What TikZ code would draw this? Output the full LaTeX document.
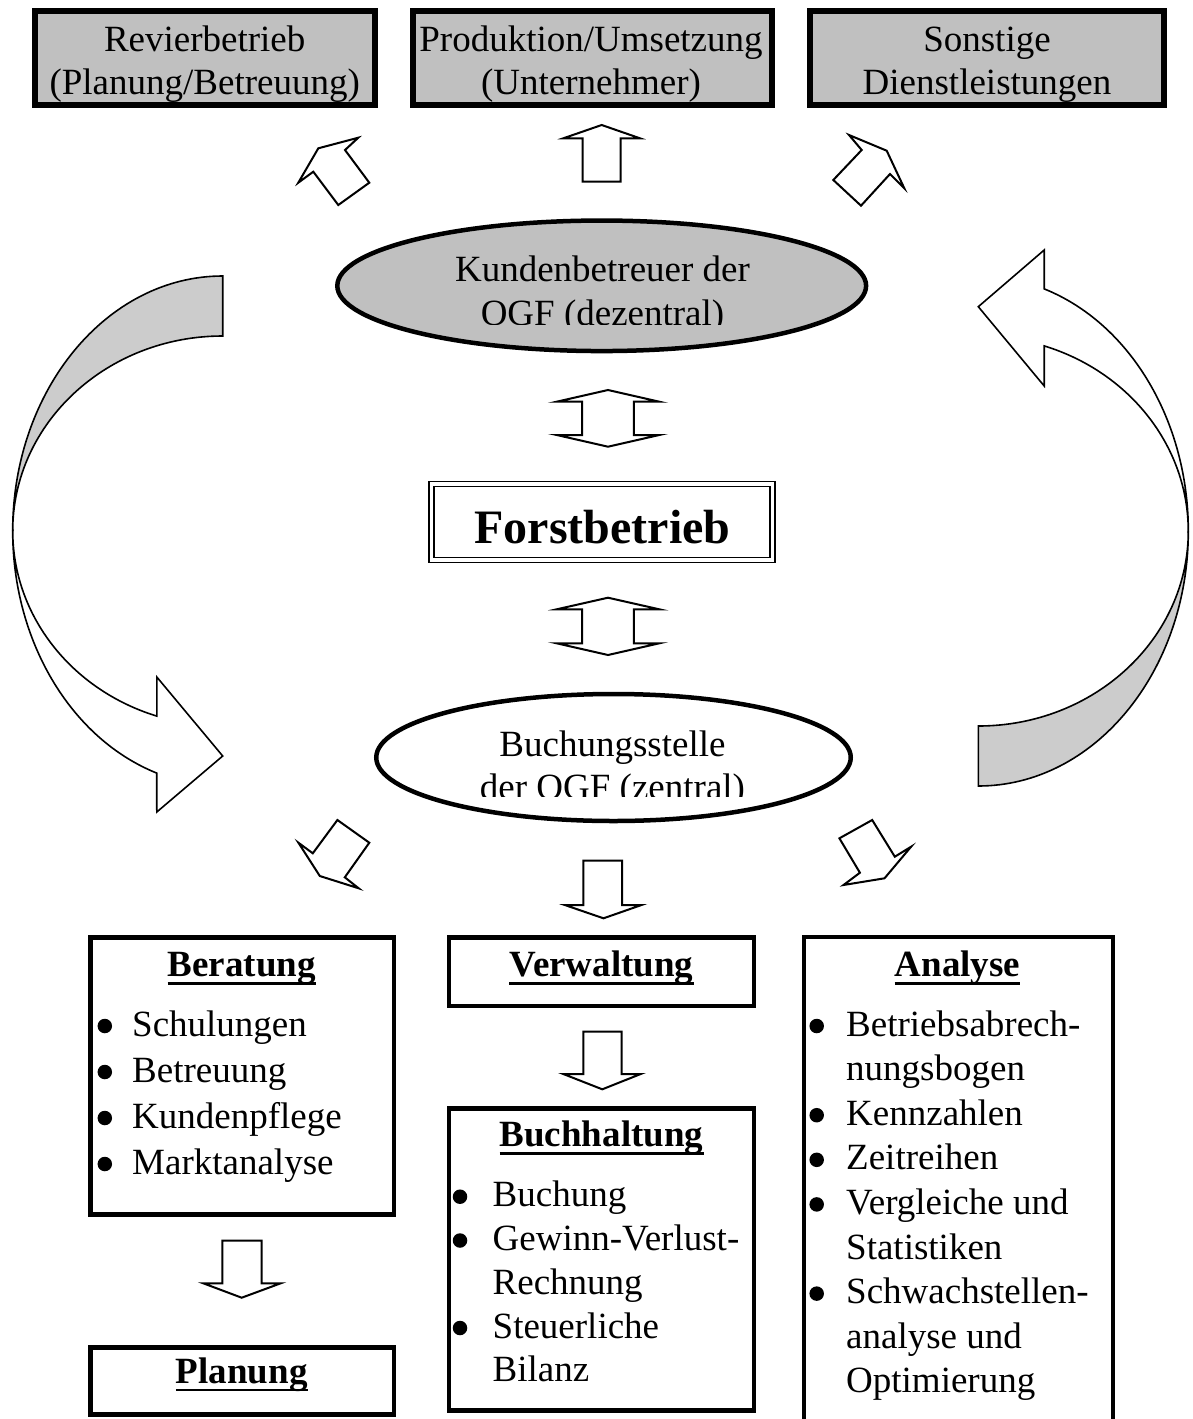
\documentclass[tikz,border=0pt]{standalone}
\usepackage{fontspec}
\setmainfont{Liberation Serif}
\usetikzlibrary{shapes.geometric}
\definecolor{boxgray}{HTML}{C0C0C0}
\definecolor{arrgray}{HTML}{CCCCCC}
\begin{document}
\begin{tikzpicture}[x=1pt,y=-1pt,
  topbox/.style={draw, line width=6pt, fill=boxgray, inner sep=0pt},
  lowbox/.style={draw, line width=4.5pt, fill=white, inner sep=0pt},
  txt/.style={inner sep=0pt, anchor=base, font=\fontsize{37}{43}\selectfont},
  btxt/.style={inner sep=0pt, anchor=base, font=\fontsize{37}{43}\selectfont\bfseries},
  ltxt/.style={inner sep=0pt, anchor=base west, font=\fontsize{37}{43}\selectfont},
  bul/.style={circle, fill=black, inner sep=0pt, minimum size=14.5pt},
  blockarrow/.style={draw, line width=2pt, fill=white, line join=miter},
  curvedarrow/.style={draw, line width=1.6pt, line join=miter},
  uline/.style={line width=2.5pt}]
\useasboundingbox (0,0) rectangle (1192,1419);
\fill[white] (0,0) rectangle (1192,1419);

% ---------- top boxes ----------
\node[topbox, minimum width=340pt, minimum height=94pt] (rev) at (204.7,58.3) {};
\node[txt] (revA) at (204.7,51.5) {Revierbetrieb};
\node[txt] (revB) at (204.7,94) {(Planung/Betreuung)};

\node[topbox, minimum width=359pt, minimum height=94pt] (prod) at (592.5,58.3) {};
\node[txt] (prodA) at (591,51.5) {Produktion/Umsetzung};
\node[txt] (prodB) at (591,94) {(Unternehmer)};

\node[topbox, minimum width=353.4pt, minimum height=94pt] (sons) at (987,58.3) {};
\node[txt] (sonsA) at (987,51.5) {Sonstige};
\node[txt] (sonsB) at (987,94) {Dienstleistungen};

% ---------- top block arrows ----------
\draw[blockarrow] (338.3,205) -- (313.3,171.7) -- (298.3,182.7) -- (318.3,148.3)
  -- (358.3,137.7) -- (345,150) -- (369.3,182.7) -- cycle;
\draw[blockarrow] (582.7,181.7) -- (582.7,138.3) -- (563.3,138.3) -- (601.7,125)
  -- (640,138.3) -- (620.5,138.3) -- (620.5,181.7) -- cycle;
\draw[blockarrow] (849,135) -- (886.7,150.7) -- (904.3,188.3) -- (890,174)
  -- (861,205.7) -- (833.3,180) -- (861.7,150) -- cycle;

% ---------- Kundenbetreuer ellipse ----------
\node[ellipse, draw, line width=4.5pt, fill=boxgray, inner sep=0pt,
      minimum width=528.8pt, minimum height=130.5pt] (kund) at (601.7,285.8) {};
\begin{scope}
  \clip (320,220) rectangle (880,324.5);
  \node[txt] (kundA) at (602.5,281.7) {Kundenbetreuer der};
  \node[txt] (kundB) at (602.5,325.5) {OGF (dezentral)};
\end{scope}

% ---------- double arrows ----------
\draw[blockarrow] (608,390) -- (659.3,401.7) -- (633.8,401.7) -- (633.8,435) -- (659.3,435)
  -- (608,446.7) -- (556.7,435) -- (582.2,435) -- (582.2,401.7) -- (556.7,401.7) -- cycle;
\draw[blockarrow] (608,597.7) -- (659.3,609.3) -- (633.8,609.3) -- (633.8,643.3) -- (659.3,643.3)
  -- (608,655) -- (556.7,643.3) -- (582.2,643.3) -- (582.2,609.3) -- (556.7,609.3) -- cycle;

% ---------- Forstbetrieb ----------
\node[draw, line width=1.7pt, double=white, double distance=3.3pt, inner sep=0pt,
      minimum width=341pt, minimum height=75.9pt] (forst) at (602.2,522) {};
\node[inner sep=0pt, anchor=base, font=\fontsize{48}{56}\selectfont\bfseries]
      (forstT) at (602.5,543.3) {Forstbetrieb};

% ---------- curved arrows ----------
\draw[curvedarrow, fill=arrgray] (222.7,276)
  arc[start angle=-90, end angle=-180, x radius=210, y radius=255]
  arc[start angle=180, end angle=270, x radius=210, y radius=195] -- cycle;
\draw[curvedarrow, fill=white] (12.7,531)
  arc[start angle=180, end angle=108.3, x radius=210, y radius=255]
  -- (156.8,812) -- (222.7,756) -- (156.8,677) -- (156.8,716.1)
  arc[start angle=108.3, end angle=180, x radius=210, y radius=195] -- cycle;

\draw[curvedarrow, fill=arrgray] (978.3,786)
  arc[start angle=90, end angle=0, x radius=210, y radius=255]
  arc[start angle=0, end angle=90, x radius=210, y radius=195] -- cycle;
\draw[curvedarrow, fill=white] (1188.3,531)
  arc[start angle=0, end angle=-71.7, x radius=210, y radius=255]
  -- (1044.2,250) -- (978.3,306.7) -- (1044.2,386) -- (1044.2,345.9)
  arc[start angle=-71.7, end angle=0, x radius=210, y radius=195] -- cycle;

% ---------- Buchungsstelle ellipse ----------
\node[ellipse, draw, line width=4.5pt, fill=white, inner sep=0pt,
      minimum width=474.5pt, minimum height=127pt] (buch) at (613.5,757.5) {};
\begin{scope}
  \clip (360,690) rectangle (860,796.5);
  \node[txt] (buchA) at (612.5,756) {Buchungsstelle};
  \node[txt] (buchB) at (612.5,799) {der OGF (zentral)};
\end{scope}

% ---------- lower block arrows ----------
\draw[blockarrow] (337.4,820) -- (369.3,842.7) -- (344.8,877.3) -- (358.7,888.3)
  -- (319.8,876) -- (298.4,842.7) -- (312.8,853.3) -- cycle;
\draw[blockarrow] (583.3,860.7) -- (583.3,905) -- (564.8,905) -- (603.5,918.3)
  -- (641.5,905) -- (622.2,905) -- (622.2,860.7) -- cycle;
\draw[blockarrow] (872.2,820) -- (894.8,856.7) -- (911.1,846.7) -- (884.5,878.3)
  -- (843.5,885) -- (859.9,872.7) -- (839.4,838.3) -- cycle;

% ---------- Beratung ----------
\node[lowbox, minimum width=303.2pt, minimum height=277.2pt] (ber) at (242.15,1075.85) {};
\node[btxt] (berH) at (241.8,976.7) {Beratung};
\draw[uline] ([yshift=-6.6pt]berH.base west) -- ([yshift=-6.6pt]berH.base east);
\node[bul] (berB1) at (104.8,1026) {};
\node[ltxt] (berT1) at (132,1036) {Schulungen};
\node[bul] (berB2) at (104.8,1072) {};
\node[ltxt] (berT2) at (132,1082) {Betreuung};
\node[bul] (berB3) at (104.8,1118) {};
\node[ltxt] (berT3) at (132,1128) {Kundenpflege};
\node[bul] (berB4) at (104.8,1164) {};
\node[ltxt] (berT4) at (132,1174) {Marktanalyse};

\draw[blockarrow] (222.3,1240.7) -- (222.3,1283.3) -- (203.3,1283.3) -- (241.7,1297.7)
  -- (280.7,1283.3) -- (261.7,1283.3) -- (261.7,1240.7) -- cycle;

% ---------- Planung ----------
\node[lowbox, minimum width=303.2pt, minimum height=67.2pt] (plan) at (242.15,1380.85) {};
\node[btxt] (planH) at (241.8,1383.3) {Planung};
\draw[uline] ([yshift=-6.6pt]planH.base west) -- ([yshift=-6.6pt]planH.base east);

% ---------- Verwaltung ----------
\node[lowbox, minimum width=304.8pt, minimum height=68.8pt] (verw) at (601.35,971.65) {};
\node[btxt] (verwH) at (601.5,976.7) {Verwaltung};
\draw[uline] ([yshift=-6.6pt]verwH.base west) -- ([yshift=-6.6pt]verwH.base east);

\draw[blockarrow] (583.3,1031.7) -- (583.3,1074) -- (563.3,1074) -- (602.3,1089.3)
  -- (640.7,1074) -- (621.7,1074) -- (621.7,1031.7) -- cycle;

% ---------- Buchhaltung ----------
\node[lowbox, minimum width=304.8pt, minimum height=302.2pt] (bh) at (601.35,1259.35) {};
\node[btxt] (bhH) at (601.5,1146.7) {Buchhaltung};
\draw[uline] ([yshift=-6.6pt]bhH.base west) -- ([yshift=-6.6pt]bhH.base east);
\node[bul] (bhB1) at (460,1196.7) {};
\node[ltxt] (bhT1) at (492.5,1206.7) {Buchung};
\node[bul] (bhB2) at (460,1240.5) {};
\node[ltxt] (bhT2) at (492.5,1250.5) {Gewinn-Verlust-};
\node[ltxt] (bhT3) at (492.5,1294.2) {Rechnung};
\node[bul] (bhB4) at (460,1328) {};
\node[ltxt] (bhT4) at (492.5,1338) {Steuerliche};
\node[ltxt] (bhT5) at (492.5,1381.7) {Bilanz};

% ---------- Analyse ----------
\node[lowbox, minimum width=308.8pt, minimum height=502.75pt] (ana) at (958.35,1188.6) {};
\node[btxt] (anaH) at (957.5,976.7) {Analyse};
\draw[uline] ([yshift=-6.6pt]anaH.base west) -- ([yshift=-6.6pt]anaH.base east);
\node[bul] (anaB1) at (816.7,1026) {};
\node[ltxt] (anaT1) at (846,1036) {Betriebsabrech-};
\node[ltxt] (anaT2) at (846,1080.6) {nungsbogen};
\node[bul] (anaB3) at (816.7,1115.2) {};
\node[ltxt] (anaT3) at (846,1125.2) {Kennzahlen};
\node[bul] (anaB4) at (816.7,1159.8) {};
\node[ltxt] (anaT4) at (846,1169.8) {Zeitreihen};
\node[bul] (anaB5) at (816.7,1204.4) {};
\node[ltxt] (anaT5) at (846,1214.4) {Vergleiche und};
\node[ltxt] (anaT6) at (846,1259) {Statistiken};
\node[bul] (anaB7) at (816.7,1293.6) {};
\node[ltxt] (anaT7) at (846,1303.6) {Schwachstellen-};
\node[ltxt] (anaT8) at (846,1348.2) {analyse und};
\node[ltxt] (anaT9) at (846,1392.8) {Optimierung};
\end{tikzpicture}
\end{document}
